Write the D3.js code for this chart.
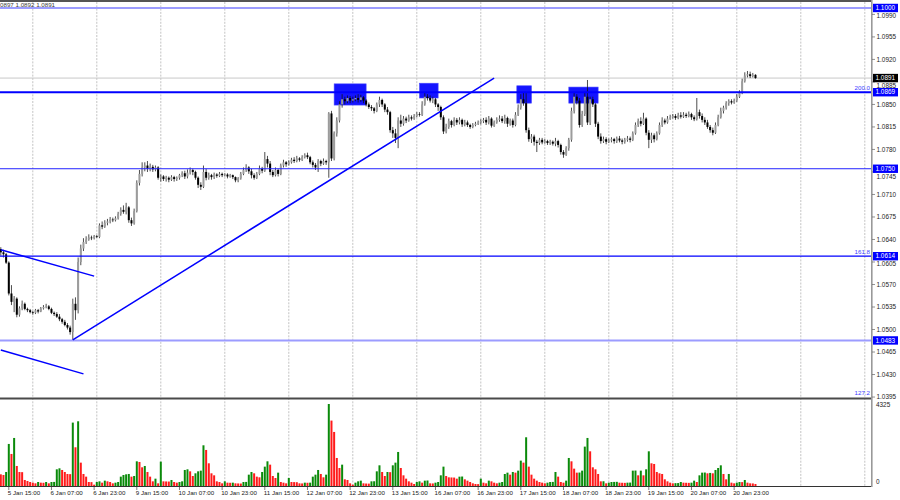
<!DOCTYPE html>
<html>
<head>
<meta charset="utf-8">
<script src="https://cdn.jsdelivr.net/npm/d3@7"></script>
<style>
body { margin: 0; background: #fff; }
svg { display: block; font-family: "Liberation Sans", Arial, sans-serif; }
</style>
</head>
<body>
<svg id="chart" width="900" height="500"></svg>
<script>
// EURUSD H1, 5 Jan 12:00 .. 23 Jan 07:00. Prices are pips above 1.0000
const firstOpen = 625;
const closes = [
  620,617,604,556,543,548,523,533,540,532, 530,527,526,530,528,533,535,536,532,526,
  524,520,516,512,507,503,496,540,530,605, 626,636,640,643,642,645,644,662,660,666,
  668,671,670,673,680,686,683,690,670,665, 684,728,742,752,755,750,753,749,752,736,
  738,734,736,733,737,734,736,740,743,738, 744,748,745,736,725,722,745,736,740,737,
  741,739,742,740,741,738,740,737,732,735, 742,748,752,746,740,736,742,750,747,765,
  758,745,740,748,742,755,760,757,760,764, 762,766,764,768,771,768,760,756,752,762,
  758,762,760,836,766,805,825,850,858,855, 860,856,858,860,857,861,856,850,846,844,
  840,850,857,850,842,838,810,805,798,825, 820,828,825,830,828,832,835,834,850,862,
  860,856,858,850,846,830,808,815,824,818, 826,822,826,819,822,818,815,818,820,822,
  824,826,822,828,817,822,826,828,824,829, 820,825,818,834,845,858,852,810,796,800,
  792,790,795,791,793,790,792,789,793,787, 776,772,782,795,840,862,856,818,835,862,
  822,858,850,820,800,793,796,792,794,796, 793,797,794,792,795,797,795,805,818,824,
  820,828,806,795,802,796,805,818,825,822, 828,830,832,829,833,831,834,832,835,830,
  827,838,832,826,822,815,810,806,818,830, 840,845,852,855,853,856,862,868,886,895,
  897,894,896,891
];
const highs = [
  628,624,619,606,569,552,550,536,545,542, 534,532,529,532,532,535,538,540,538,534,
  528,527,524,518,515,510,506,548,550,612, 632,642,645,648,646,647,647,665,668,670,
  672,675,674,676,683,690,693,697,692,674, 688,732,748,760,760,762,758,756,755,754,
  741,740,739,738,740,739,738,742,746,747, 749,752,750,747,738,729,755,750,744,742,
  744,743,745,744,743,743,742,741,738,737, 745,752,757,754,750,743,745,755,753,776,
  770,762,748,752,750,758,764,762,763,767, 768,770,768,771,774,775,770,763,759,765,
  764,766,764,838,840,808,830,855,866,862, 864,863,862,864,866,865,863,858,853,849,
  846,853,862,859,852,846,840,815,812,830, 834,832,831,834,833,835,838,838,855,868,
  866,864,862,860,852,848,833,820,828,826, 830,829,830,828,826,825,820,821,823,825,
  827,829,830,832,830,825,830,833,832,834, 831,828,828,838,850,866,868,868,814,804,
  803,795,798,798,796,795,795,794,798,795, 789,779,785,798,845,869,866,860,840,868,
  888,862,862,852,823,805,800,799,797,799, 798,800,801,797,798,801,800,808,822,828,
  830,837,830,810,806,805,808,822,830,828, 832,834,835,835,837,838,838,837,839,837,
  833,860,842,836,830,826,818,814,822,834, 845,848,855,858,858,859,866,872,890,900,
  902,901,899,897
];
const lows = [
  615,612,602,553,538,527,519,520,530,530, 527,525,523,524,525,527,531,533,530,524,
  521,518,513,509,505,500,492,483,515,525, 600,622,633,638,639,640,642,642,656,658,
  662,665,667,668,671,677,680,679,666,661, 663,682,724,738,746,745,746,745,746,733,
  730,731,730,729,731,730,731,733,737,734, 735,741,740,733,720,717,720,732,733,733,
  734,736,737,737,738,735,736,734,729,729, 733,740,745,742,735,733,734,740,743,745,
  752,740,737,738,738,740,752,753,755,758, 759,760,761,762,766,765,757,752,748,745,
  754,756,756,736,762,763,800,822,845,850, 852,852,853,855,853,854,852,847,843,840,
  836,838,846,846,838,834,806,798,790,782, 815,817,821,823,825,826,830,831,832,848,
  856,853,852,846,840,826,804,805,812,814, 816,818,819,815,816,815,812,813,816,818,
  819,821,818,819,814,815,820,823,821,820, 815,817,814,816,832,842,848,806,792,790,
  786,776,787,788,789,787,787,786,785,783, 772,767,770,778,792,836,850,814,815,832,
  818,818,846,815,796,789,790,788,790,791, 789,790,791,788,789,792,791,793,803,815,
  816,818,802,782,790,791,794,803,815,819, 820,826,828,826,827,828,829,829,830,826,
  824,825,828,822,818,812,806,802,804,816, 828,836,842,848,850,851,854,860,866,884,
  892,891,892,890
];
const volumes = [
  616,581,739,2218,1690,2534,1056,739,730,317, 264,211,176,141,211,176,170,211,141,211,
  215,880,933,845,739,634,625,3344,2042,3414, 1232,634,493,211,205,70,211,246,176,282,
  246,211,141,176,211,493,581,616,634,493, 528,1302,1267,986,1056,739,493,246,387,141,
  1285,246,240,235,317,211,176,211,246,845, 880,774,528,669,774,810,2147,1901,1197,669,
  563,246,211,141,246,176,170,176,141,135, 130,211,215,598,739,669,493,458,739,1021,
  1302,1126,528,422,704,211,176,141,422,211, 205,200,141,135,176,170,176,493,598,845,
  634,458,598,4325,3450,2851,1478,950,1126,352, 317,141,70,176,246,282,141,130,125,246,
  250,774,1091,739,528,739,730,1091,1232,1795, 950,563,387,246,176,106,211,246,176,282,
  290,141,135,176,211,563,1021,528,458,450, 445,387,493,500,352,282,211,141,106,100,
  387,176,141,282,246,176,141,176,211,634, 704,598,739,704,810,1338,1232,2570,1021,598,
  387,282,211,176,141,176,211,215,739,493, 211,176,282,1478,1302,915,704,710,810,2077,
  2534,1830,986,880,634,246,250,141,176,211, 215,220,176,170,165,176,180,810,815,563,
  810,563,880,1830,1197,1162,739,669,634,352, 246,176,141,150,155,211,176,170,165,176,
  282,211,563,704,710,669,690,669,845,950, 1091,634,352,634,176,141,176,211,205,317,
  176,141,135,106
];
const timeLabels = [
  "5 Jan 15:00","6 Jan 07:00","6 Jan 23:00","9 Jan 15:00","10 Jan 07:00","10 Jan 23:00",
  "11 Jan 15:00","12 Jan 07:00","12 Jan 23:00","13 Jan 15:00","16 Jan 07:00","16 Jan 23:00",
  "17 Jan 15:00","18 Jan 07:00","18 Jan 23:00","19 Jan 15:00","20 Jan 07:00","20 Jan 23:00"
];
const firstLabelBar = 3, labelEvery = 16;
const dayStartBars = [12,36,60,84,108,132,156,180,204,228,252,276,300,324];
const priceTicks = [1.0990,1.0955,1.0920,1.0885,1.0850,1.0815,1.0780,1.0745,1.0710,
  1.0675,1.0640,1.0605,1.0570,1.0535,1.0500,1.0465,1.0430,1.0395];
const levelPrices = [1.1000, 1.0869, 1.0750, 1.0614, 1.0483];
const bidPrice = 1.0891;
const fibNames = ["200.0", "161.8", "127.2"];
const fibPrices = [1.0869, 1.0614, 1.0395];
// zones: [from bar, to bar, top price, bottom price]
const zones = [[125,137,1.0882,1.0849],[157,164,1.0883,1.0860],[193.5,199,1.0879,1.0852],[213,224,1.0877,1.0852]];
// trend lines: [bar, price, bar, price]
const trendLines = [[27,1.0484,185,1.0891],[0,1.0624,35,1.0583],[0,1.0468,31,1.0431]];
const volMax = 4325;
const header = "0897 1.0892 1.0891";

const W = 900, plotRight = 871, priceBottom = 398, volBottom = 486;
const svg = d3.select('#chart');
const px = v => 1 + v / 10000;

const x = d3.scaleLinear().domain([0, 300]).range([0.8, 0.8 + 300 * 2.6667]);
const y = d3.scaleLinear().domain([1.03935, 1.10124]).range([priceBottom, 0]);
const yv = d3.scaleLinear().domain([0, volMax]).range([volBottom, 404]);

svg.append('rect').attr('width', W).attr('height', 500).attr('fill', '#fff');

const defs = svg.append('defs');
defs.append('clipPath').attr('id', 'clipMain')
  .append('rect').attr('x', 0).attr('y', 2).attr('width', plotRight).attr('height', priceBottom - 2);

// daily grid
svg.append('g').selectAll('line').data(dayStartBars).join('line')
  .attr('x1', d => x(d)).attr('x2', d => x(d))
  .attr('y1', 2).attr('y2', volBottom)
  .attr('stroke', '#b4b4b4').attr('stroke-width', 0.8).attr('stroke-dasharray', '2,1.3');

const main = svg.append('g').attr('clip-path', 'url(#clipMain)');

// bid line
main.append('line').attr('x1', 0).attr('x2', plotRight)
  .attr('y1', y(bidPrice)).attr('y2', y(bidPrice))
  .attr('stroke', '#c8c8c8').attr('stroke-width', 1);

// zones (drawn behind the candles)
main.append('g').selectAll('rect').data(zones).join('rect')
  .attr('x', d => x(d[0])).attr('width', d => x(d[1]) - x(d[0]))
  .attr('y', d => y(d[2])).attr('height', d => y(d[3]) - y(d[2]))
  .attr('fill', '#1414ff').attr('stroke', '#4a4aff').attr('stroke-width', 0.6);

// candles
const bars = closes.map((c, i) => {
  const o = i === 0 ? firstOpen : closes[i - 1];
  return { i, o: px(o), c: px(c), h: px(Math.max(highs[i], o, c)), l: px(Math.min(lows[i], o, c)) };
});
const candle = main.append('g').selectAll('g').data(bars).join('g');
candle.append('line')
  .attr('x1', d => x(d.i)).attr('x2', d => x(d.i))
  .attr('y1', d => y(d.h)).attr('y2', d => y(d.l))
  .attr('stroke', '#111').attr('stroke-width', 0.75);
candle.append('rect')
  .attr('x', d => x(d.i) - 1).attr('width', 2)
  .attr('y', d => y(Math.max(d.o, d.c)))
  .attr('height', d => Math.max(0.7, Math.abs(y(d.o) - y(d.c))))
  .attr('fill', d => d.c >= d.o ? '#9c9c9c' : '#000');

// horizontal levels
const levelColor = ['#9c9cff', '#0000ff', '#2323ff', '#0000ff', '#9c9cff'];
const levelWidth = [2, 2, 1, 1.3, 2];
main.append('g').selectAll('line').data(levelPrices).join('line')
  .attr('x1', 0).attr('x2', plotRight)
  .attr('y1', d => y(d)).attr('y2', d => y(d))
  .attr('stroke', (d, k) => levelColor[k]).attr('stroke-width', (d, k) => levelWidth[k]);

// trend lines
main.append('g').selectAll('line').data(trendLines).join('line')
  .attr('x1', d => x(d[0])).attr('y1', d => y(d[1]))
  .attr('x2', d => x(d[2])).attr('y2', d => y(d[3]))
  .attr('stroke', '#0000ff').attr('stroke-width', 1.5);

// fibo level names
svg.append('g').selectAll('text').data(fibPrices).join('text')
  .attr('x', plotRight - 1).attr('y', d => y(d) - 1.8)
  .attr('text-anchor', 'end').attr('font-size', 6.2).attr('fill', '#3c3cff')
  .text((d, k) => fibNames[k]);

// header
svg.append('text').attr('x', 0).attr('y', 7).attr('font-size', 6.2).attr('fill', '#3a3a3a').text(header);

// volumes
svg.append('g').selectAll('rect').data(volumes).join('rect')
  .attr('x', (d, i) => x(i) - 1).attr('width', 2)
  .attr('y', d => yv(d)).attr('height', d => volBottom - yv(d))
  .attr('fill', (d, i) => i > 0 && d > volumes[i - 1] ? '#0a8a0a' : '#ff1a1a');

// frame
svg.append('rect').attr('x', plotRight).attr('y', 0).attr('width', W - plotRight).attr('height', 500).attr('fill', '#fff');
svg.append('line').attr('x1', 0).attr('x2', plotRight + 1).attr('y1', 1).attr('y2', 1).attr('stroke', '#555').attr('stroke-width', 2);
svg.append('line').attr('x1', 0).attr('x2', plotRight + 1).attr('y1', priceBottom + 0.5).attr('y2', priceBottom + 0.5).attr('stroke', '#4a4a4a').attr('stroke-width', 2);
svg.append('line').attr('x1', 0).attr('x2', plotRight + 1).attr('y1', volBottom + 0.5).attr('y2', volBottom + 0.5).attr('stroke', '#333').attr('stroke-width', 1.2);
svg.append('line').attr('x1', plotRight + 0.8).attr('x2', plotRight + 0.8).attr('y1', 0).attr('y2', volBottom + 1).attr('stroke', '#999').attr('stroke-width', 1.6);

// price axis; a tick label that sits under a price box peeks out just below it
const boxPrices = levelPrices.concat([bidPrice]);
const labelY = d => {
  const hit = boxPrices.find(b => Math.abs(y(b) - y(d)) < 7.5);
  return hit === undefined ? y(d) : y(hit) + 7.6;
};
const axis = svg.append('g').attr('font-size', 6.4);
axis.selectAll('line.tick').data(priceTicks).join('line').attr('class', 'tick')
  .attr('x1', plotRight + 1).attr('x2', plotRight + 4)
  .attr('y1', d => y(d)).attr('y2', d => y(d)).attr('stroke', '#666').attr('stroke-width', 0.7);
axis.selectAll('text.tick').data(priceTicks).join('text').attr('class', 'tick')
  .attr('x', plotRight + 5.5).attr('y', labelY).attr('dy', '0.35em')
  .attr('fill', '#222').text(d => d.toFixed(4));

// price boxes on the axis
const box = axis.selectAll('g.box').data(boxPrices).join('g').attr('class', 'box');
box.append('rect').attr('x', plotRight + 2).attr('width', 25)
  .attr('y', d => y(d) - 4.2).attr('height', 8.4)
  .attr('fill', d => d === bidPrice ? '#000' : '#0000ff');
box.append('text').attr('x', plotRight + 4.5).attr('y', d => y(d)).attr('dy', '0.35em')
  .attr('fill', '#fff').text(d => d.toFixed(4));

// volume axis
axis.append('text').attr('x', plotRight + 5).attr('y', yv(volMax) + 3).attr('fill', '#222').text(String(volMax));
axis.append('text').attr('x', plotRight + 5).attr('y', volBottom - 2).attr('fill', '#222').text('0');

// time axis
const tAxis = svg.append('g').attr('font-size', 6.2).attr('fill', '#222');
timeLabels.forEach((t, k) => {
  const bx = x(firstLabelBar + k * labelEvery);
  tAxis.append('line').attr('x1', bx).attr('x2', bx).attr('y1', volBottom + 1).attr('y2', volBottom + 4)
    .attr('stroke', '#444').attr('stroke-width', 0.7);
  tAxis.append('text').attr('x', bx - 1).attr('y', volBottom + 9).text(t);
});
</script>
</body>
</html>
